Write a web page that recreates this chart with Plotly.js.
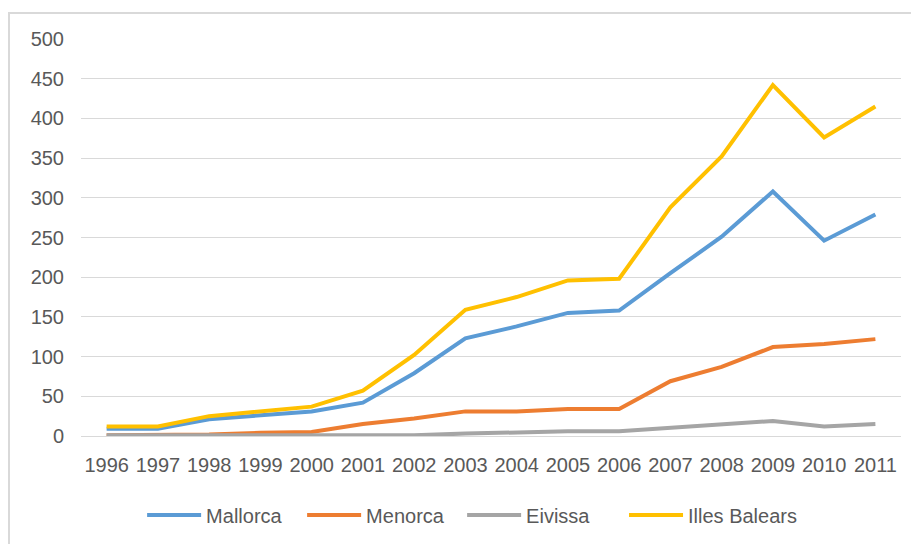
<!DOCTYPE html>
<html>
<head>
<meta charset="utf-8">
<script src="https://cdn.plot.ly/plotly-3.0.1.min.js"></script>
<style>
  html, body { margin: 0; padding: 0; background: #ffffff; }
  #wrap { position: relative; width: 911px; height: 544px; overflow: hidden; }
  #frame { position: absolute; left: 8px; top: 12px; width: 940px; height: 600px;
           border: 2px solid #d9d9d9; box-sizing: border-box; pointer-events: none; z-index: 2; }
  #chart { position: absolute; left: 0; top: 0; width: 911px; height: 544px; }
</style>
</head>
<body>
<div id="wrap">
  <div id="chart"></div>
  <div id="frame"></div>
</div>
<script>
const years = ["1996","1997","1998","1999","2000","2001","2002","2003","2004","2005","2006","2007","2008","2009","2010","2011"];
const mallorca     = [9, 9, 21, 26, 31, 42, 79, 123, 138, 155, 158, 205, 251, 308, 246, 279];
const menorca      = [1, 1, 2, 4, 5, 15, 22, 31, 31, 34, 34, 69, 87, 112, 116, 122];
const eivissa      = [1, 1, 1, 1, 1, 1, 1, 3, 5, 6, 6, 10, 14, 19, 12, 15];
const illesBalears = [12, 12, 25, 31, 37, 57, 102, 159, 175, 196, 198, 288, 352, 442, 376, 415];

const seriesNames  = ["Mallorca", "Menorca", "Eivissa", "Illes Balears"];
const seriesColors = ["#5B9BD5", "#ED7D31", "#A5A5A5", "#FFC000"];
const seriesData   = [mallorca, menorca, eivissa, illesBalears];
const seriesLegend = ["legend", "legend", "legend", "legend2"];

const traces = seriesData.map((vals, i) => ({
  type: "scatter",
  mode: "lines",
  name: seriesNames[i],
  legend: seriesLegend[i],
  x: years,
  y: vals,
  line: { color: seriesColors[i], width: 4 }
}));

const legendCommon = {
  orientation: "h",
  xref: "container", yref: "container",
  xanchor: "left",
  y: 0.0533, yanchor: "middle",
  font: { size: 20, color: "#595959" },
  itemwidth: 54
};

const layout = {
  width: 911,
  height: 544,
  margin: { l: 81, r: 10, t: 39, b: 108 },
  paper_bgcolor: "#ffffff",
  plot_bgcolor: "#ffffff",
  font: { family: "Liberation Sans, Arial, sans-serif", size: 20, color: "#595959" },
  showlegend: true,
  legend: Object.assign({}, legendCommon, { x: 0.156, entrywidth: 91, entrywidthmode: "pixels" }),
  legend2: Object.assign({}, legendCommon, { x: 0.685 }),
  xaxis: {
    type: "category",
    range: [-0.5, 15.5],
    showgrid: false,
    zeroline: false,
    showline: false,
    ticks: "",
    ticklabelstandoff: 15,
    tickfont: { size: 20, color: "#595959" },
    automargin: false
  },
  yaxis: {
    range: [0, 500],
    dtick: 50,
    tick0: 0,
    showgrid: true,
    gridcolor: "#d9d9d9",
    gridwidth: 1,
    zeroline: true,
    zerolinecolor: "#d9d9d9",
    zerolinewidth: 1,
    showline: false,
    ticks: "",
    ticklabelstandoff: 16,
    tickfont: { size: 20, color: "#595959" },
    automargin: false
  }
};

Plotly.newPlot("chart", traces, layout, { displayModeBar: false, staticPlot: true });
</script>
</body>
</html>
